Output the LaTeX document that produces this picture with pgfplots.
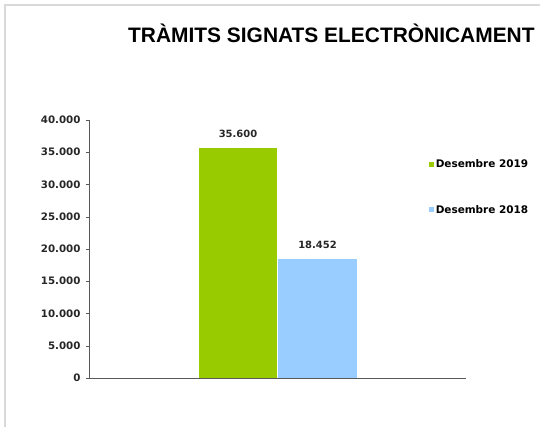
\documentclass[border=0pt]{standalone}
\usepackage{fontspec}
\setmainfont{DejaVu Sans}
\newfontfamily\titlefont{Liberation Sans}
\usepackage{pgfplots}
\pgfplotsset{compat=1.18}
\definecolor{cgreen}{HTML}{99CC00}
\definecolor{cblue}{HTML}{99CCFF}
\begin{document}
\begin{tikzpicture}
\useasboundingbox (0,0) rectangle (540bp,427bp);
\clip (0,0) rectangle (540bp,427bp);
\draw[black!15, line width=1.5bp] (5bp,-20bp) rectangle (600bp,422bp);
\node[anchor=base west, inner sep=0pt, font=\titlefont\bfseries\fontsize{21}{24}\selectfont] at (128bp,384bp) {TRÀMITS SIGNATS ELECTRÒNICAMENT};
\begin{axis}[
  at={(89bp,49bp)}, anchor=south west,
  scale only axis, width=377bp, height=258bp,
  xmin=0, xmax=377, ymin=0, ymax=40000,
  ytick={0,5000,...,40000}, xtick=\empty,
  axis x line=bottom, axis y line=left,
  axis line style={-, draw=black!65, line width=1bp},
  tick align=outside, major tick length=3.5bp,
  ytick style={draw=black!65},
  scaled y ticks=false,
  /pgf/number format/1000 sep={.},
  /pgf/number format/assume math mode=true,
  tick label style={font=\bfseries\fontsize{10.3}{12}\selectfont, text=black!85},
  yticklabel style={xshift=-1.5bp},
  nodes near coords,
  nodes near coords style={font=\bfseries\fontsize{10}{12}\selectfont, text=black!85, anchor=south, yshift=7bp, /pgf/number format/assume math mode=true},
  legend style={at={(0.902,0.853)}, anchor=north west, draw=none, fill=none, inner sep=0pt,
    row sep=33bp, font=\bfseries\fontsize{10.5}{12}\selectfont, nodes={inner sep=1.5bp}},
  legend cell align=left,
]
\addplot[ybar, bar width=78, bar shift=0pt, fill=cgreen, draw=none,
  legend image code/.code={\fill[cgreen] (0bp,-2.5bp) rectangle (5bp,2.5bp);}]
  coordinates {(149,35600)};
\addlegendentry{Desembre 2019}
\addplot[ybar, bar width=79, bar shift=0pt, fill=cblue, draw=none,
  legend image code/.code={\fill[cblue] (0bp,-2.5bp) rectangle (5bp,2.5bp);}]
  coordinates {(228.5,18452)};
\addlegendentry{Desembre 2018}
\end{axis}
\end{tikzpicture}
\end{document}
